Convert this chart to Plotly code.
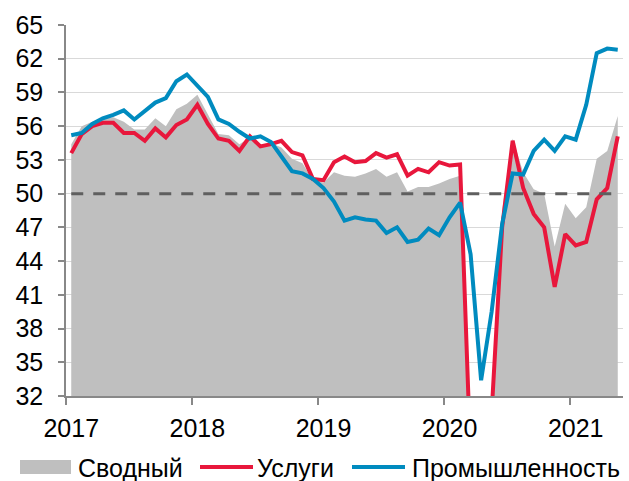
import numpy as np
import plotly.graph_objects as go

# Eurozone PMI, monthly Jan 2017 - May 2021
years = ['2017', '2018', '2019', '2020', '2021']

composite = [54.4, 56.0, 56.4, 56.7, 56.8, 56.4, 55.7, 55.7, 56.7, 56.0, 57.5, 58.0,
             58.8, 57.1, 55.3, 55.2, 54.4, 55.0, 54.3, 54.5, 54.1, 53.1, 52.7, 51.2,
             51.0, 51.9, 51.6, 51.5, 51.8, 52.2, 51.5, 51.9, 50.2, 50.6, 50.6, 50.9,
             51.3, 51.6, 29.7, 13.6, 31.9, 48.5, 54.9, 51.9, 50.4, 50.0, 45.3, 49.1,
             47.8, 48.8, 53.1, 53.8, 56.9]
services = [53.6, 55.3, 56.0, 56.3, 56.3, 55.4, 55.4, 54.7, 55.8, 55.0, 56.1, 56.6,
            57.9, 56.2, 54.9, 54.7, 53.8, 55.1, 54.2, 54.4, 54.7, 53.7, 53.4, 51.3,
            51.2, 52.8, 53.3, 52.8, 52.9, 53.6, 53.2, 53.5, 51.6, 52.2, 51.9, 52.8,
            52.5, 52.6, 26.4, 12.0, 30.5, 47.0, 54.7, 50.5, 48.2, 47.0, 41.7, 46.4,
            45.4, 45.7, 49.5, 50.5, 55.1]
industry = [55.2, 55.4, 56.2, 56.7, 57.0, 57.4, 56.6, 57.4, 58.1, 58.5, 60.0, 60.6,
            59.6, 58.6, 56.6, 56.2, 55.5, 54.9, 55.1, 54.6, 53.3, 52.0, 51.8, 51.3,
            50.5, 49.3, 47.6, 47.9, 47.7, 47.6, 46.5, 47.0, 45.7, 45.9, 46.9, 46.3,
            47.9, 49.2, 44.6, 33.4, 39.5, 47.3, 51.8, 51.7, 53.8, 54.8, 53.8, 55.1,
            54.8, 57.9, 62.5, 62.9, 62.8]
threshold = [50] * len(composite)

x = np.arange(len(composite)) + 0.5   # month slots, year starts at 0, 12, 24 ...

GRAY = '#bfbfbf'
RED = '#e8173c'
BLUE = '#008bbf'
AXIS = '#888888'
FONT = 'Liberation Sans, Arial, sans-serif'

fig = go.Figure()
fig.add_trace(go.Scatter(x=x, y=composite, name='Сводный', mode='lines',
                         line=dict(width=0, color=GRAY), fill='tozeroy', fillcolor=GRAY))
fig.add_trace(go.Scatter(x=x, y=services, name='Услуги', mode='lines',
                         line=dict(width=4, color=RED)))
fig.add_trace(go.Scatter(x=x, y=industry, name='Промышленность', mode='lines',
                         line=dict(width=4, color=BLUE)))
fig.add_trace(go.Scatter(x=x, y=threshold, mode='lines', showlegend=False,
                         line=dict(width=3, color='#5f5f5f', dash='12px,10px')))

W, H = 629, 481
L, R, T, B = 66, 6, 25, 85

def px(xp):
    return (xp - L) / (W - L - R)

def py(yp):
    return (H - B - yp) / (H - T - B)

# legend drawn by hand so the swatches match the original
leg_y = 467
fig.add_shape(type='rect', xref='paper', yref='paper', x0=px(20), x1=px(71),
              y0=py(460), y1=py(474), fillcolor=GRAY, line_width=0)
fig.add_shape(type='line', xref='paper', yref='paper', x0=px(200), x1=px(253),
              y0=py(leg_y), y1=py(leg_y), line=dict(color=RED, width=4))
fig.add_shape(type='line', xref='paper', yref='paper', x0=px(352), x1=px(405),
              y0=py(leg_y), y1=py(leg_y), line=dict(color=BLUE, width=4))
for name, xl in [('Сводный', 76), ('Услуги', 255), ('Промышленность', 410)]:
    fig.add_annotation(text=name, xref='paper', yref='paper', x=px(xl), y=py(leg_y + 1),
                       xanchor='left', yanchor='middle', showarrow=False,
                       font=dict(size=25, color='black', family=FONT))

fig.update_layout(width=W, height=H, margin=dict(l=L, r=R, t=T, b=B),
                  plot_bgcolor='white', paper_bgcolor='white', showlegend=False,
                  font=dict(family=FONT, size=25, color='black'))
fig.update_xaxes(range=[0, len(composite)], tickvals=[0.5 + 12 * i for i in range(len(years))],
                 ticktext=years, ticks='', showgrid=False, showline=True, automargin=False,
                 linecolor=AXIS, linewidth=1.5, ticklabelstandoff=9,
                 minor=dict(tickvals=[12 * i for i in range(len(years))], ticks='outside',
                            ticklen=7, tickcolor=AXIS, tickwidth=1.5, showgrid=False))
fig.update_yaxes(range=[32, 65], tickvals=list(range(32, 66, 3)), ticks='outside',
                 ticklen=6, tickcolor=AXIS, tickwidth=1.5, showline=True, automargin=False,
                 linecolor=AXIS, linewidth=1.5, gridcolor='#d9d9d9', gridwidth=1.3,
                 zeroline=False, ticklabelstandoff=10)

# page body has an 8px default margin; drop it so the figure sits at the corner
fig.write_html("out.html", config={'displayModeBar': False},
               post_script="document.body.style.margin='0';")
